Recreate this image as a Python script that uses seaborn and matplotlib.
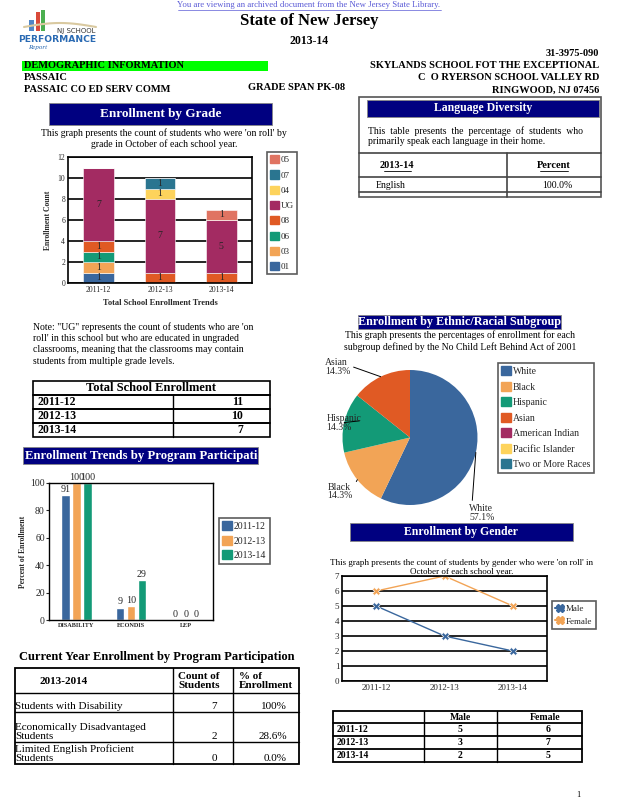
import matplotlib
matplotlib.use('Agg')
import matplotlib.pyplot as plt
from matplotlib.patches import Rectangle, Patch
from matplotlib.lines import Line2D
import numpy as np
import pandas as pd
import seaborn as sns

# ---- data ----
years = ['2011-12', '2012-13', '2013-14']

# enrollment by grade, stacked bottom -> top
grade_order = ['01', '03', '06', '08', 'UG', '04', '07', '05']
grade_01 = [1, 0, 0]
grade_03 = [1, 0, 0]
grade_06 = [1, 0, 0]
grade_08 = [1, 1, 1]
grade_ug = [7, 7, 5]
grade_04 = [0, 1, 0]
grade_07 = [0, 1, 0]
grade_05 = [0, 0, 1]

total_enrollment = [11, 10, 7]

program_cats = ['DISABILITY', 'ECONDIS', 'LEP']
program_2011 = [91, 9, 0]
program_2012 = [100, 10, 0]
program_2013 = [100, 29, 0]

ethnic_groups = ['White', 'Black', 'Hispanic', 'Asian', 'American Indian',
                 'Pacific Islander', 'Two or More Races']
ethnic_pct = [57.1, 14.3, 14.3, 14.3, 0, 0, 0]

male = [5, 3, 2]
female = [6, 7, 5]

program_rows = ['Students with Disability', 'Economically Disadvantaged\nStudents',
                'Limited English Proficient\nStudents']
program_counts = [7, 2, 0]
program_share = ['100%', '28.6%', '0.0%']

languages = ['English']
language_pct = ['100.0%']

# colours used by the report
BLUE = '#3a679d'
ORANGE = '#f2a456'
GREEN = '#139a77'
RED = '#e05a24'
MAGENTA = '#a32b62'
YELLOW = '#fdd35c'
TEAL = '#2a7590'
SALMON = '#e07462'
NAVY = '#000080'

grade_colors = {'01': BLUE, '03': ORANGE, '06': GREEN, '08': RED,
                'UG': MAGENTA, '04': YELLOW, '07': TEAL, '05': SALMON}

sns.set_style('white')
plt.rcParams['font.family'] = ['Liberation Serif', 'DejaVu Serif']

W, H = 618, 800
fig = plt.figure(figsize=(W / 100, H / 100), dpi=100)


def fx(x):
    return x / W


def fy(y):
    return 1 - y / H


def put(x, y, s, size=7, weight='normal', ha='left', va='center', color='black', **kw):
    return fig.text(fx(x), fy(y), s, fontsize=size, fontweight=weight, ha=ha, va=va,
                    color=color, **kw)


def box(x0, y0, x1, y1, fc='none', ec='black', lw=1.0):
    r = Rectangle((fx(x0), fy(y1)), (x1 - x0) / W, (y1 - y0) / H,
                  transform=fig.transFigure, fc=fc, ec=ec, lw=lw)
    fig.add_artist(r)
    return r


def line(x0, y0, x1, y1, lw=1.0, color='black'):
    fig.add_artist(Line2D([fx(x0), fx(x1)], [fy(y0), fy(y1)],
                          transform=fig.transFigure, lw=lw, color=color))


def axes_at(x0, y0, x1, y1):
    return fig.add_axes([fx(x0), fy(y1), (x1 - x0) / W, (y1 - y0) / H])


def banner(x0, y0, x1, y1, title, size=9, ha='center'):
    r = box(x0, y0, x1, y1, fc=NAVY, ec='#888888', lw=0.6)
    tx = (x0 + x1) / 2 if ha == 'center' else x0 + 2
    t = put(tx, (y0 + y1) / 2, title, size=size, weight='bold', ha=ha, color='white')
    t.set_clip_path(r)


def legend_at(handles, labels, x, y, size=7, spacing=0.5):
    fig.legend(handles, labels, loc='upper left', bbox_to_anchor=(fx(x), fy(y)),
               bbox_transform=fig.transFigure, frameon=True, fancybox=False,
               edgecolor='#333333', fontsize=size, handlelength=1.0,
               handleheight=1.0, handletextpad=0.2, labelspacing=spacing,
               borderpad=0.35, borderaxespad=0).get_frame().set_linewidth(1.2)


# ---- page header ----
put(309, 5, 'You are viewing an archived document from the New Jersey State Library.',
    size=6.3, ha='center', color='#5a5ad6')
line(178, 10, 441, 10, lw=0.5, color='#5a5ad6')

# logo
box(29, 20, 34, 31, fc='#4f86c6', ec='none')
box(36, 12, 40, 31, fc='#d94a3a', ec='none')
box(41, 10, 45, 31, fc='#4caf50', ec='none')
wave_x = np.linspace(24, 96, 40)
fig.add_artist(Line2D(fx(wave_x), fy(27 - 4 * np.sin((wave_x - 24) / 72 * np.pi)),
                      transform=fig.transFigure, color='#d9c9a0', lw=1.5))
put(96, 31, 'NJ SCHOOL', size=5, ha='right', color='#333333', family='DejaVu Sans')
put(96, 40, 'PERFORMANCE', size=6.6, weight='bold', ha='right', color='#2a6ab3',
    family='DejaVu Sans')
put(28, 48, 'Report', size=5, style='italic', color='#2a6ab3')

put(309, 21, 'State of New Jersey', size=12, weight='bold', ha='center')
put(309, 41, '2013-14', size=8.5, weight='bold', ha='center')
put(599, 53, '31-3975-090', size=7.5, weight='bold', ha='right')

box(22, 61, 268, 71, fc='#00ff00', ec='none')
put(24, 66, 'DEMOGRAPHIC INFORMATION', size=7.5, weight='bold')
put(599, 66, 'SKYLANDS SCHOOL FOT THE EXCEPTIONAL', size=7.5, weight='bold', ha='right')
put(24, 78, 'PASSAIC', size=7.5, weight='bold')
put(599, 78, 'C  O RYERSON SCHOOL VALLEY RD', size=7.5, weight='bold', ha='right')
put(24, 90, 'PASSAIC CO ED SERV COMM', size=7.5, weight='bold')
put(248, 88, 'GRADE SPAN PK-08', size=7.5, weight='bold')
put(599, 90, 'RINGWOOD, NJ 07456', size=7.5, weight='bold', ha='right')

# ---- enrollment by grade ----
banner(49, 103, 272, 125, 'Enrollment by Grade', size=9.5)
put(164, 133, "This graph presents the count of students who were 'on roll' by",
    size=7, ha='center')
put(164, 144, 'grade in October of each school year.', size=7, ha='center')

grade_df = pd.DataFrame({'01': grade_01, '03': grade_03, '06': grade_06,
                         '08': grade_08, 'UG': grade_ug, '04': grade_04,
                         '07': grade_07, '05': grade_05}, index=years)
ax = axes_at(68, 157, 252, 283)
bottom = np.zeros(len(years))
for g in grade_order:
    vals = grade_df[g].values
    sns.barplot(x=years, y=vals, bottom=bottom, color=grade_colors[g], width=0.5,
                edgecolor='white', linewidth=0.4, saturation=1, ax=ax)
    ax.bar_label(ax.containers[-1], labels=[str(v) if v else '' for v in vals],
                 label_type='center', fontsize=7)
    bottom = bottom + vals
ax.set_ylim(0, 12)
ax.set_yticks(range(0, 13, 2))
ax.yaxis.grid(True, color='black', lw=1.2)
ax.set_axisbelow(True)
for s in ax.spines.values():
    s.set_color('black')
    s.set_linewidth(1.2)
ax.tick_params(axis='y', labelsize=5.5, length=0, pad=2)
ax.tick_params(axis='x', labelsize=5.5, length=0, pad=2)
ax.set_ylabel('Enrollment Count', fontsize=5.5, fontweight='bold', labelpad=4)
ax.set_xlabel('Total School Enrollment Trends', fontsize=6, fontweight='bold', labelpad=4)
legend_at([Patch(color=grade_colors[g]) for g in grade_order[::-1]], grade_order[::-1],
          267, 152, size=6.5, spacing=0.68)

# ---- language diversity ----
box(359, 97, 601, 197, ec='#555555', lw=1.2)
banner(367, 100, 599, 117, 'Language Diversity', size=8.5)
put(368, 131, 'This  table  presents  the  percentage  of  students  who', size=7)
put(368, 142, 'primarily speak each language in their home.', size=7)
line(359, 153, 601, 153, lw=1.2, color='#444444')
line(359, 177, 601, 177, lw=1.2, color='#444444')
line(359, 192, 601, 192, lw=1.2, color='#444444')
line(507, 153, 507, 197, lw=1.2, color='#444444')
put(397, 166, '2013-14', size=7.5, weight='bold', ha='center')
line(384, 171, 411, 171, lw=0.6)
put(554, 166, 'Percent', size=7.5, weight='bold', ha='center')
line(540, 171, 568, 171, lw=0.6)
for i, (lang, pct) in enumerate(zip(languages, language_pct)):
    put(376, 185 + 15 * i, lang, size=7)
    put(557, 185 + 15 * i, pct, size=7, ha='center')

# ---- note + total enrollment table ----
note = ["Note: \"UG\" represents the count of students who are 'on",
        "roll' in this school but who are educated in ungraded",
        "classrooms, meaning that the classrooms may contain",
        "students from multiple grade levels."]
for i, t in enumerate(note):
    put(33, 327 + 11.5 * i, t, size=7)

box(33, 381, 270, 437, lw=1.2)
put(151, 388, 'Total School Enrollment', size=9, weight='bold', ha='center')
for i, (yr, n) in enumerate(zip(years, total_enrollment)):
    top = 395 + 14 * i
    line(33, top, 270, top, lw=1.4)
    put(38, top + 7, yr, size=8.5, weight='bold')
    put(243, top + 7, str(n), size=8.5, weight='bold', ha='right')
line(173, 395, 173, 437, lw=1.0)

# ---- enrollment trends by program participation ----
banner(23, 447, 258, 464, 'Enrollment Trends by Program Participation', size=9.2, ha='left')
prog_df = pd.DataFrame({'program': program_cats * 3,
                        'pct': program_2011 + program_2012 + program_2013,
                        'year': np.repeat(years, len(program_cats))})
ax = axes_at(49, 483, 213, 620)
sns.barplot(data=prog_df, x='program', y='pct', hue='year',
            palette=[BLUE, ORANGE, GREEN], width=0.6, gap=0.22, saturation=1,
            legend=False, ax=ax)
for c in ax.containers:
    ax.bar_label(c, fmt='%.0f', padding=1, fontsize=7.2)
ax.set_ylim(0, 100)
ax.set_yticks(range(0, 101, 20))
for s in ax.spines.values():
    s.set_color('black')
    s.set_linewidth(1.0)
ax.tick_params(axis='y', labelsize=7, length=2, pad=1, left=True)
ax.tick_params(axis='x', labelsize=4.5, length=0, pad=2)
for lab in ax.get_xticklabels():
    lab.set_fontweight('bold')
ax.set_xlabel('')
ax.set_ylabel('Percent of Enrollment', fontsize=5.5, fontweight='bold', labelpad=2)
legend_at([Patch(color=c) for c in [BLUE, ORANGE, GREEN]], years, 219, 518,
          size=7, spacing=0.5)

# ---- ethnic / racial pie ----
banner(358, 315, 561, 329, 'Enrollment by Ethnic/Racial Subgroup', size=8.7)
put(460, 335, 'This graph presents the percentages of enrollment for each', size=7,
    ha='center')
put(460, 347, 'subgroup defined by the No Child Left Behind Act of 2001', size=7,
    ha='center')
eth_colors = [BLUE, ORANGE, GREEN, RED, MAGENTA, YELLOW, TEAL]
ax = axes_at(342.5, 370, 477.5, 505)
shown = [i for i, v in enumerate(ethnic_pct) if v > 0]
wedges, _ = ax.pie([ethnic_pct[i] for i in shown], colors=[eth_colors[i] for i in shown],
                   startangle=90, counterclock=False, radius=1,
                   wedgeprops=dict(lw=0))
ax.set_xlim(-1, 1)
ax.set_ylim(-1, 1)
# label positions (text anchor in radius units) for each shown slice
label_pos = {'White': (0.88, -0.98, 'left', 'top'),
             'Black': (-1.22, -0.80, 'left', 'center'),
             'Hispanic': (-1.24, 0.22, 'left', 'center'),
             'Asian': (-1.26, 1.04, 'left', 'center')}
for w, i in zip(wedges, shown):
    name = ethnic_groups[i]
    mid = np.deg2rad((w.theta1 + w.theta2) / 2)
    tx, ty, ha, va = label_pos[name]
    ax.annotate(f'{name}\n{ethnic_pct[i]:.1f}%', xy=(np.cos(mid), np.sin(mid)),
                xytext=(tx, ty), ha=ha, va=va, fontsize=7, linespacing=1.0,
                annotation_clip=False,
                arrowprops=dict(arrowstyle='-', color='black', lw=0.7,
                                shrinkA=0, shrinkB=0, relpos=(0.1, 0.9) if name == 'White'
                                else (0.95, 0.6)))
legend_at([Patch(color=c) for c in eth_colors], ethnic_groups, 498, 363,
          size=7, spacing=0.6)

# ---- enrollment by gender ----
banner(350, 523, 573, 541, 'Enrollment by Gender', size=8.5)
gender_df = pd.DataFrame({'year': years * 2, 'count': male + female,
                          'gender': ['Male'] * 3 + ['Female'] * 3})
ax = axes_at(342, 576, 547, 681)
sns.lineplot(data=gender_df, x='year', y='count', hue='gender',
             palette={'Male': BLUE, 'Female': ORANGE}, marker='X', markersize=6,
             markeredgewidth=0.5, lw=1.0, legend=False, ax=ax)
ax.set_xlim(-0.5, 2.5)
ax.set_ylim(0, 7)
ax.set_yticks(range(0, 8))
ax.yaxis.grid(True, color='black', lw=1.2)
ax.set_axisbelow(True)
for s in ax.spines.values():
    s.set_color('black')
    s.set_linewidth(1.2)
ax.tick_params(labelsize=6.5, length=0, pad=2)
ax.set_xlabel('')
ax.set_ylabel('')
put(462, 563, "This graph presents the count of students by gender who were 'on roll' in",
    size=6.5, ha='center')
put(462, 572, 'October of each school year.', size=6.5, ha='center')
legend_at([Line2D([], [], color=BLUE, marker='X', markersize=6),
           Line2D([], [], color=ORANGE, marker='X', markersize=6)],
          ['Male', 'Female'], 552, 601, size=6.5, spacing=0.4)

# gender table
box(333, 711, 582, 762, lw=1.3)
line(424, 711, 424, 762, lw=1.0)
line(497, 711, 497, 762, lw=1.0)
put(460, 717, 'Male', size=7, weight='bold', ha='center')
put(545, 717, 'Female', size=7, weight='bold', ha='center')
for i, yr in enumerate(years):
    top = 723 + 13 * i
    line(333, top, 582, top, lw=1.3)
    put(337, top + 6.5, yr, size=7, weight='bold')
    put(460, top + 6.5, str(male[i]), size=7, weight='bold', ha='center')
    put(548, top + 6.5, str(female[i]), size=7, weight='bold', ha='center')

# ---- current year program table ----
put(19, 657, 'Current Year Enrollment by Program Participation', size=9, weight='bold')
box(15, 668, 299, 764, lw=1.3)
line(173, 668, 173, 764, lw=1.0)
line(233, 668, 233, 764, lw=1.0)
put(39, 681, '2013-2014', size=8, weight='bold')
put(178, 681, 'Count of\nStudents', size=8, weight='bold', linespacing=1.0)
put(239, 681, '% of\nEnrollment', size=8, weight='bold', linespacing=1.0)
row_tops = [693, 712, 742]
row_bottoms = [712, 742, 764]
for i, (lab, cnt, shr) in enumerate(zip(program_rows, program_counts, program_share)):
    line(15, row_tops[i], 299, row_tops[i], lw=1.0)
    put(15, row_bottoms[i] - 1, lab, size=8, va='bottom', linespacing=1.0)
    put(217, row_bottoms[i] - 1, str(cnt), size=8, ha='right', va='bottom')
    put(287, row_bottoms[i] - 1, shr, size=8, ha='right', va='bottom')

put(578, 795, '1', size=6, ha='center')

fig.savefig('out.png', dpi=100)
